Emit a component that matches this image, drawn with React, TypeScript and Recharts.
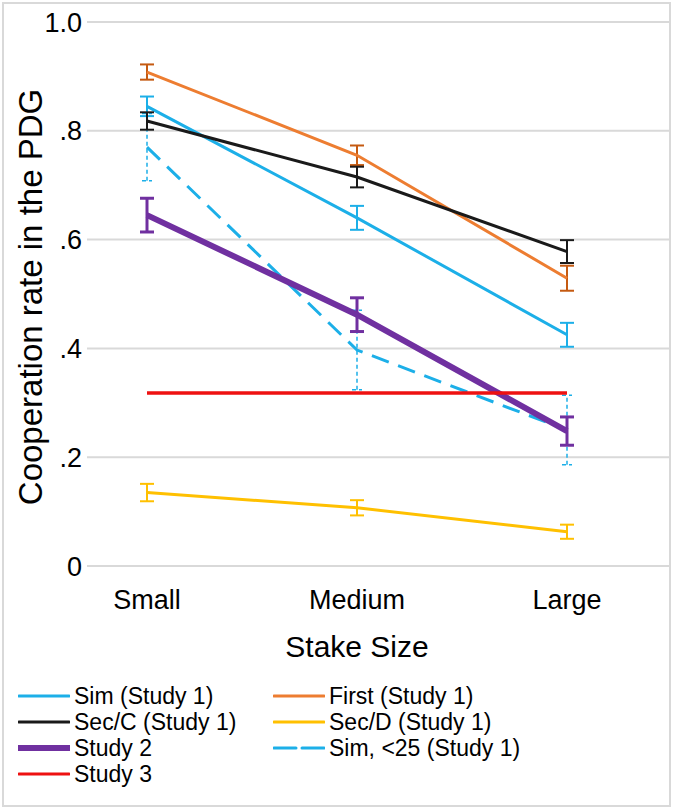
import React from 'react';
import { LineChart, Line, XAxis, YAxis, CartesianGrid, ErrorBar, Legend } from 'recharts';

const categories = ['Small', 'Medium', 'Large'];
const simStudy1 = [0.845, 0.64, 0.425];
const simStudy1Err = [0.018, 0.022, 0.022];
const firstStudy1 = [0.908, 0.755, 0.529];
const firstStudy1Err = [0.014, 0.018, 0.023];
const secCStudy1 = [0.818, 0.715, 0.578];
const secCStudy1Err = [0.016, 0.019, 0.021];
const secDStudy1 = [0.135, 0.107, 0.063];
const secDStudy1Err = [0.016, 0.014, 0.013];
const study2 = [0.645, 0.462, 0.248];
const study2Err = [0.031, 0.031, 0.026];
const study3 = [0.318, 0.318, 0.318];
const simUnder25 = [0.77, 0.397, 0.25];
const simUnder25Err = [0.062, 0.073, 0.064];
const yTicks = [0, 0.2, 0.4, 0.6, 0.8, 1.0];
const yTickLabels = ['0', '.2', '.4', '.6', '.8', '1.0'];

const data = categories.map((c, i) => ({
  category: c,
  sim: simStudy1[i],
  simE: simStudy1Err[i],
  first: firstStudy1[i],
  firstE: firstStudy1Err[i],
  secC: secCStudy1[i],
  secCE: secCStudy1Err[i],
  secD: secDStudy1[i],
  secDE: secDStudy1Err[i],
  s2: study2[i],
  s2E: study2Err[i],
  s3: study3[i],
  u25: simUnder25[i],
  u25E: simUnder25Err[i],
}));

const C_SIM = '#1cafe8';
const C_FIRST = '#ed7d31';
const C_SECC = '#1a1a1a';
const C_SECD = '#ffc000';
const C_S2 = '#7030a0';
const C_S3 = '#ee1111';

const FONT = '"Liberation Sans", Arial, Helvetica, sans-serif';

const legendItems = [
  { label: 'Sim (Study 1)', color: C_SIM, w: 3, dash: undefined, col: 0, row: 0 },
  { label: 'First (Study 1)', color: C_FIRST, w: 3, dash: undefined, col: 1, row: 0 },
  { label: 'Sec/C (Study 1)', color: C_SECC, w: 3, dash: undefined, col: 0, row: 1 },
  { label: 'Sec/D (Study 1)', color: C_SECD, w: 3, dash: undefined, col: 1, row: 1 },
  { label: 'Study 2', color: C_S2, w: 6, dash: undefined, col: 0, row: 2 },
  { label: 'Sim, <25 (Study 1)', color: C_SIM, w: 3, dash: '22 6', col: 1, row: 2 },
  { label: 'Study 3', color: C_S3, w: 3, dash: undefined, col: 0, row: 3 },
];

const LegendContent = () => (
  <div style={{ position: 'relative', width: 675, height: 145, fontFamily: FONT }}>
    {legendItems.map((it) => (
      <div
        key={it.label}
        style={{
          position: 'absolute',
          left: it.col === 0 ? 18 : 273,
          top: 18 + it.row * 26,
          height: 26,
          display: 'flex',
          alignItems: 'center',
          whiteSpace: 'nowrap',
        }}
      >
        <svg width={52} height={12} style={{ marginRight: 4 }}>
          <line x1={1} y1={6} x2={51} y2={6} stroke={it.color} strokeWidth={it.w} strokeDasharray={it.dash} strokeLinecap="round" />
        </svg>
        <span style={{ fontSize: 23, color: '#000', lineHeight: '26px' }}>{it.label}</span>
      </div>
    ))}
  </div>
);

const YTitle = (props: any) => {
  const { x, y, height } = props.viewBox;
  const cx = x + 42;
  const cy = y + height / 2 + 3;
  return (
    <text x={cx} y={cy} transform={`rotate(-90 ${cx} ${cy})`} textAnchor="middle" fontSize={33} fontFamily={FONT} fill="#000">
      Cooperation rate in the PDG
    </text>
  );
};

const XTitle = (props: any) => {
  const { x, y, width } = props.viewBox;
  const cx = x + 60 + (width - 60 - 102) / 2;
  return (
    <text x={cx} y={y + 91} textAnchor="middle" fontSize={30} fontFamily={FONT} fill="#000">
      Stake Size
    </text>
  );
};

export default function App() {
  return (
    <div style={{ position: 'absolute', left: 0, top: 0, width: 675, height: 810, background: '#fff' }}>
      <div
        style={{
          position: 'absolute',
          left: 2,
          top: 2,
          width: 669,
          height: 805,
          border: '2px solid #d9d9d9',
          boxSizing: 'border-box',
        }}
      />
      <LineChart width={675} height={810} data={data} margin={{ top: 22, right: 6, left: 0, bottom: 0 }} style={{ fontFamily: FONT }}>
        <CartesianGrid vertical={false} stroke="#d9d9d9" strokeWidth={2} />
        <XAxis
          dataKey="category"
          padding={{ left: 60, right: 102 }}
          axisLine={false}
          tickLine={false}
          tickSize={12}
          tickMargin={12}
          interval={0}
          height={99}
          tick={{ fontSize: 27, fill: '#000', fontFamily: FONT }}
          label={<XTitle />}
        />
        <YAxis
          domain={[0, 1]}
          ticks={yTicks}
          tickFormatter={(v: number) => yTickLabels[yTicks.indexOf(v)] ?? String(v)}
          axisLine={false}
          tickLine={false}
          tickSize={3}
          tickMargin={2}
          width={87}
          tick={{ fontSize: 27, fill: '#000', fontFamily: FONT }}
          label={<YTitle />}
        />
        <Legend verticalAlign="bottom" align="left" height={145} wrapperStyle={{ left: 0, bottom: 0, width: 675 }} content={<LegendContent />} />
        <Line dataKey="secD" stroke={C_SECD} strokeWidth={3} dot={false} isAnimationActive={false} name="Sec/D (Study 1)">
          <ErrorBar dataKey="secDE" width={7} strokeWidth={2} stroke={C_SECD} direction="y" />
        </Line>
        <Line dataKey="u25" stroke={C_SIM} strokeWidth={3} strokeDasharray="18 10" dot={false} isAnimationActive={false} name="Sim, <25 (Study 1)">
          <ErrorBar dataKey="u25E" width={5} strokeWidth={1.5} stroke={C_SIM} strokeDasharray="4 3" direction="y" />
        </Line>
        <Line dataKey="sim" stroke={C_SIM} strokeWidth={3} dot={false} isAnimationActive={false} name="Sim (Study 1)">
          <ErrorBar dataKey="simE" width={7} strokeWidth={2} stroke={C_SIM} direction="y" />
        </Line>
        <Line dataKey="first" stroke={C_FIRST} strokeWidth={3} dot={false} isAnimationActive={false} name="First (Study 1)">
          <ErrorBar dataKey="firstE" width={7} strokeWidth={2} stroke="#c55a11" direction="y" />
        </Line>
        <Line dataKey="secC" stroke={C_SECC} strokeWidth={3} dot={false} isAnimationActive={false} name="Sec/C (Study 1)">
          <ErrorBar dataKey="secCE" width={7} strokeWidth={2} stroke={C_SECC} direction="y" />
        </Line>
        <Line dataKey="s2" stroke={C_S2} strokeWidth={6} dot={false} isAnimationActive={false} name="Study 2">
          <ErrorBar dataKey="s2E" width={7} strokeWidth={3} stroke={C_S2} direction="y" />
        </Line>
        <Line dataKey="s3" stroke={C_S3} strokeWidth={3.5} dot={false} isAnimationActive={false} name="Study 3" />
      </LineChart>
    </div>
  );
}
